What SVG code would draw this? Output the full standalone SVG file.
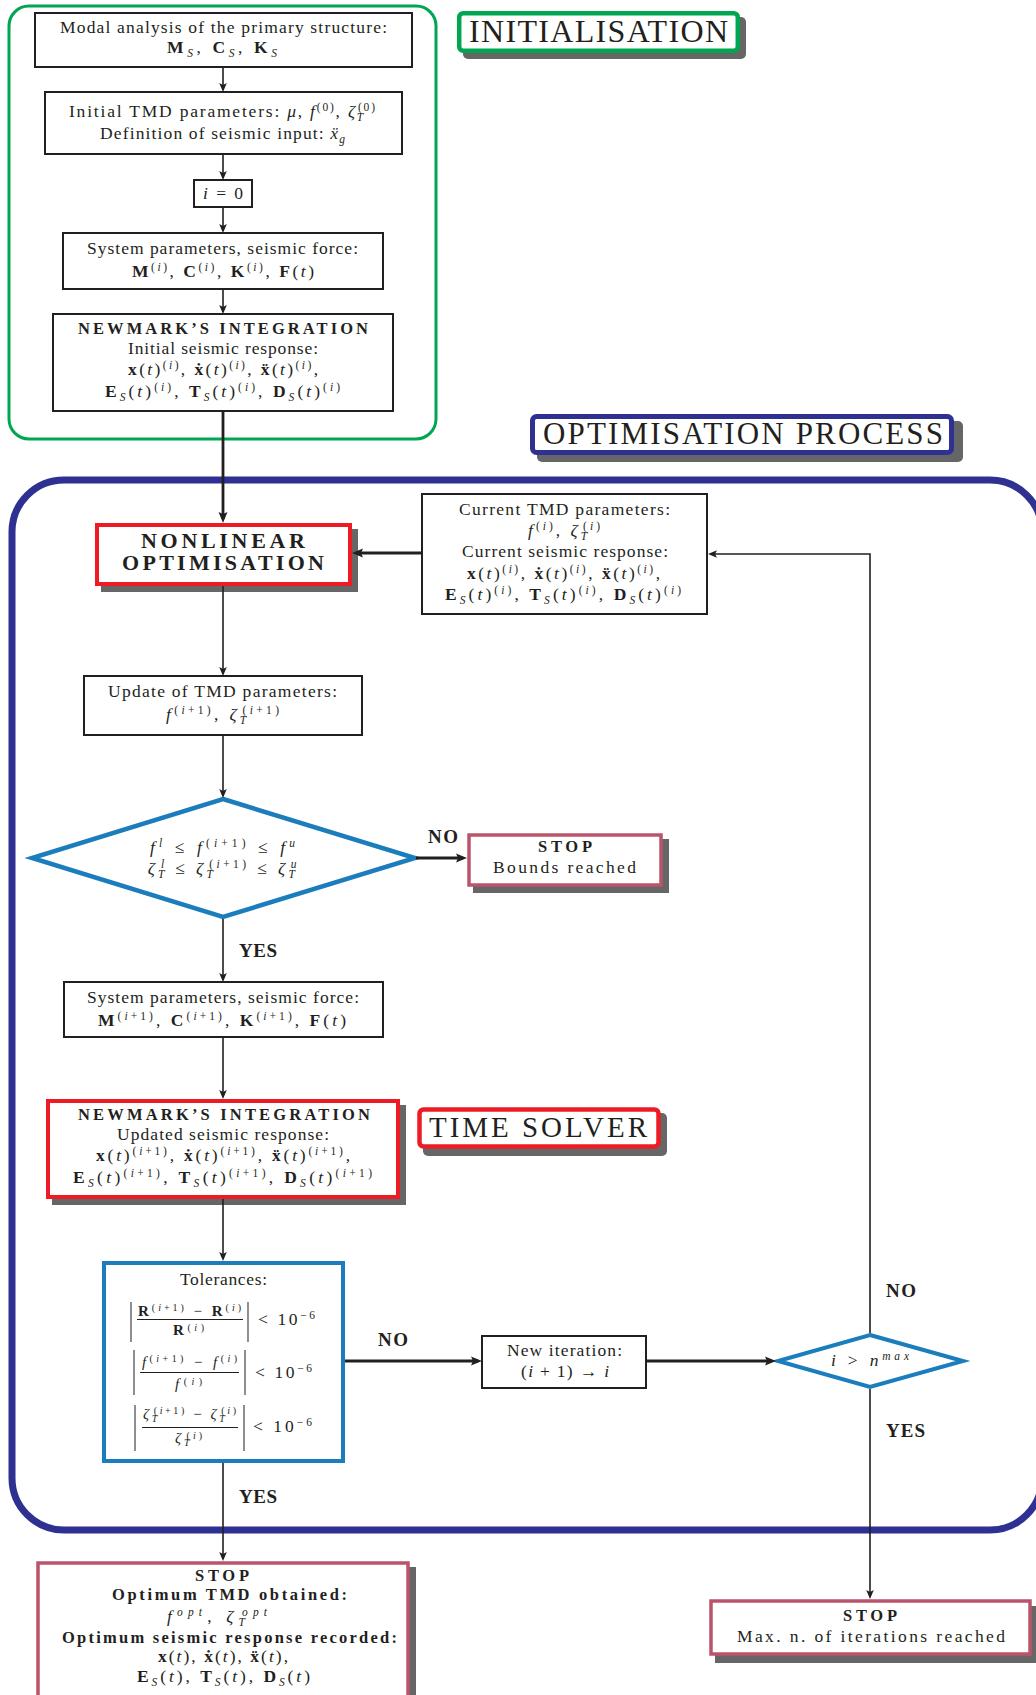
<svg xmlns="http://www.w3.org/2000/svg" width="1036" height="1695" viewBox="0 0 1036 1695">
<defs>
<style>
.t{font-family:"Liberation Serif","Times New Roman",serif;font-size:17.5px;fill:#231f20;text-anchor:middle}
.ts{text-anchor:start}
.b{font-weight:bold}
.i{font-style:italic}
.s{font-size:11.5px}
.s9{font-size:10px}
.f13{font-size:15px}
.hb{font-size:19px}
.nb{font-size:16.5px}
.box{fill:#fff;stroke:#231f20;stroke-width:2}
.sh{fill:#666}
.red{fill:#fff;stroke:#ed1c24;stroke-width:4}
.pink{fill:#fff;stroke:#b9546a;stroke-width:3.5}
.cyan{fill:#fff;stroke:#1b7dbc;stroke-width:4.5}
.c{fill:none;stroke:#231f20;stroke-width:1.6;marker-end:url(#ah)}
.ct{fill:none;stroke:#231f20;stroke-width:2.8;marker-end:url(#ahT)}
.abs{stroke:#444;stroke-width:1.2}
.bar{stroke:#231f20;stroke-width:1}
</style>
<marker id="ah" viewBox="-8 -5 11 10" markerWidth="11" markerHeight="10" refX="0" refY="0" orient="auto" markerUnits="userSpaceOnUse"><path d="M2,0 L-7,-3.8 L-5,0 L-7,3.8 Z" fill="#231f20"/></marker>
<marker id="ahT" viewBox="-8 -5 13 10" markerWidth="13" markerHeight="10" refX="0" refY="0" orient="auto" markerUnits="userSpaceOnUse"><path d="M4,0 L-7,-4.5 L-5,0 L-7,4.5 Z" fill="#231f20"/></marker>
</defs>
<rect width="1036" height="1695" fill="#fff"/>

<!-- containers -->
<g id="init-container"><rect x="9" y="6" width="427" height="433" rx="20" fill="none" stroke="#00a651" stroke-width="3"/></g>
<g id="opt-container"><rect x="12" y="480" width="1030" height="1050" rx="52" fill="none" stroke="#2e3192" stroke-width="7"/></g>

<g id="label-init">
<rect class="sh" x="463" y="17" width="283" height="42" rx="5"/>
<rect x="459.2" y="13.2" width="278.6" height="37.6" rx="4" fill="#fff" stroke="#00a651" stroke-width="4.5"/>
<text class="t" x="598.5" y="42" style="font-size:32px" textLength="259">INITIALISATION</text>
</g>
<g id="label-opt">
<rect class="sh" x="537" y="421" width="426" height="41" rx="5"/>
<rect x="532.5" y="416.5" width="419" height="36" rx="4" fill="#fff" stroke="#2e3192" stroke-width="5"/>
<text class="t" x="743" y="444" style="font-size:31px" textLength="400">OPTIMISATION PROCESS</text>
</g>

<!-- initialisation nodes -->
<g id="modal">
<rect class="box" x="35" y="13" width="377" height="54"/>
<text class="t" x="223.5" y="33" textLength="327">Modal analysis of the primary structure:</text>
<text class="t" x="222" y="53" textLength="110"><tspan class="b">M</tspan><tspan class="s i" baseline-shift="-4">S</tspan>, <tspan class="b">C</tspan><tspan class="s i" baseline-shift="-4">S</tspan>, <tspan class="b">K</tspan><tspan class="s i" baseline-shift="-4">S</tspan></text>
</g>
<g id="initial-tmd">
<rect class="box" x="45" y="92" width="357" height="62"/>
<text class="t" x="222" y="117" textLength="306">Initial TMD parameters: <tspan class="i">μ</tspan>, <tspan class="i">f</tspan><tspan class="s" baseline-shift="6.5">(0)</tspan>, <tspan class="i">ζ</tspan><tspan class="s i" baseline-shift="-4">T</tspan><tspan class="s" dx="-7" baseline-shift="6.5">(0)</tspan></text>
<text class="t" x="222.5" y="139" textLength="245">Definition of seismic input: <tspan class="i">ẍ</tspan><tspan class="s i" baseline-shift="-4">g</tspan></text>
</g>
<g id="i-zero">
<rect class="box" x="194" y="180" width="58" height="27"/>
<text class="t" x="223" y="199" textLength="40"><tspan class="i">i</tspan> = 0</text>
</g>
<g id="system-params">
<rect class="box" x="63" y="233" width="320" height="56"/>
<text class="t" x="222.5" y="254" textLength="271">System parameters, seismic force:</text>
<text class="t" x="223" y="277" textLength="182"><tspan class="b">M</tspan><tspan class="s" baseline-shift="6.5">(<tspan class="i">i</tspan>)</tspan>, <tspan class="b">C</tspan><tspan class="s" baseline-shift="6.5">(<tspan class="i">i</tspan>)</tspan>, <tspan class="b">K</tspan><tspan class="s" baseline-shift="6.5">(<tspan class="i">i</tspan>)</tspan>, <tspan class="b">F</tspan>(<tspan class="i">t</tspan>)</text>
</g>
<g id="newmark-initial">
<rect class="box" x="53" y="314" width="340" height="97"/>
<text class="t b nb" x="223" y="334" textLength="290">NEWMARK’S INTEGRATION</text>
<text class="t" x="223" y="354" textLength="190">Initial seismic response:</text>
<text class="t" x="223" y="375" textLength="190"><tspan class="b">x</tspan>(<tspan class="i">t</tspan>)<tspan class="s" baseline-shift="6.5">(<tspan class="i">i</tspan>)</tspan>, <tspan class="b">ẋ</tspan>(<tspan class="i">t</tspan>)<tspan class="s" baseline-shift="6.5">(<tspan class="i">i</tspan>)</tspan>, <tspan class="b">ẍ</tspan>(<tspan class="i">t</tspan>)<tspan class="s" baseline-shift="6.5">(<tspan class="i">i</tspan>)</tspan>,</text>
<text class="t" x="222.5" y="397" textLength="235"><tspan class="b">E</tspan><tspan class="s i" baseline-shift="-4">S</tspan>(<tspan class="i">t</tspan>)<tspan class="s" baseline-shift="6.5">(<tspan class="i">i</tspan>)</tspan>, <tspan class="b">T</tspan><tspan class="s i" baseline-shift="-4">S</tspan>(<tspan class="i">t</tspan>)<tspan class="s" baseline-shift="6.5">(<tspan class="i">i</tspan>)</tspan>, <tspan class="b">D</tspan><tspan class="s i" baseline-shift="-4">S</tspan>(<tspan class="i">t</tspan>)<tspan class="s" baseline-shift="6.5">(<tspan class="i">i</tspan>)</tspan></text>
</g>

<!-- optimisation nodes -->
<g id="nonlinear">
<rect class="sh" x="101" y="529" width="257" height="63"/>
<rect class="red" x="97" y="525" width="253" height="59"/>
<text class="t b" x="223" y="548" style="font-size:22px" textLength="164">NONLINEAR</text>
<text class="t b" x="223" y="570" style="font-size:22px" textLength="202">OPTIMISATION</text>
</g>
<g id="current">
<rect class="box" x="422" y="494" width="285" height="120"/>
<text class="t" x="564.5" y="515" textLength="211">Current TMD parameters:</text>
<text class="t" x="564" y="536" textLength="72"><tspan class="i">f</tspan><tspan class="s" baseline-shift="6.5">(<tspan class="i">i</tspan>)</tspan>, <tspan class="i">ζ</tspan><tspan class="s i" baseline-shift="-4">T</tspan><tspan class="s" dx="-7" baseline-shift="6.5">(<tspan class="i">i</tspan>)</tspan></text>
<text class="t" x="565" y="557" textLength="206">Current seismic response:</text>
<text class="t" x="563.5" y="579" textLength="193"><tspan class="b">x</tspan>(<tspan class="i">t</tspan>)<tspan class="s" baseline-shift="6.5">(<tspan class="i">i</tspan>)</tspan>, <tspan class="b">ẋ</tspan>(<tspan class="i">t</tspan>)<tspan class="s" baseline-shift="6.5">(<tspan class="i">i</tspan>)</tspan>, <tspan class="b">ẍ</tspan>(<tspan class="i">t</tspan>)<tspan class="s" baseline-shift="6.5">(<tspan class="i">i</tspan>)</tspan>,</text>
<text class="t" x="563" y="600" textLength="236"><tspan class="b">E</tspan><tspan class="s i" baseline-shift="-4">S</tspan>(<tspan class="i">t</tspan>)<tspan class="s" baseline-shift="6.5">(<tspan class="i">i</tspan>)</tspan>, <tspan class="b">T</tspan><tspan class="s i" baseline-shift="-4">S</tspan>(<tspan class="i">t</tspan>)<tspan class="s" baseline-shift="6.5">(<tspan class="i">i</tspan>)</tspan>, <tspan class="b">D</tspan><tspan class="s i" baseline-shift="-4">S</tspan>(<tspan class="i">t</tspan>)<tspan class="s" baseline-shift="6.5">(<tspan class="i">i</tspan>)</tspan></text>
</g>
<g id="update">
<rect class="box" x="84" y="676" width="278" height="59"/>
<text class="t" x="222.5" y="697" textLength="229">Update of TMD parameters:</text>
<text class="t" x="222.5" y="720" textLength="113"><tspan class="i">f</tspan><tspan class="s" baseline-shift="6.5">(<tspan class="i">i</tspan>+1)</tspan>, <tspan class="i">ζ</tspan><tspan class="s i" baseline-shift="-4">T</tspan><tspan class="s" dx="-7" baseline-shift="6.5">(<tspan class="i">i</tspan>+1)</tspan></text>
</g>
<g id="bounds-check">
<polygon class="cyan" points="223,799 415,858 223,917 32,858"/>
<text class="t" x="222.5" y="853" textLength="145"><tspan class="i">f</tspan><tspan class="s i" baseline-shift="6.5">l</tspan> ≤ <tspan class="i">f</tspan><tspan class="s" baseline-shift="6.5">(<tspan class="i">i</tspan>+1)</tspan> ≤ <tspan class="i">f</tspan><tspan class="s i" baseline-shift="6.5">u</tspan></text>
<text class="t" x="222" y="874" textLength="150"><tspan class="i">ζ</tspan><tspan class="s i" baseline-shift="-4">T</tspan><tspan class="s i" dx="-7" baseline-shift="6.5">l</tspan> ≤ <tspan class="i">ζ</tspan><tspan class="s i" baseline-shift="-4">T</tspan><tspan class="s" dx="-7" baseline-shift="6.5">(<tspan class="i">i</tspan>+1)</tspan> ≤ <tspan class="i">ζ</tspan><tspan class="s i" baseline-shift="-4">T</tspan><tspan class="s i" dx="-7" baseline-shift="6.5">u</tspan></text>
</g>
<g id="stop-bounds">
<rect class="sh" x="473" y="839" width="196" height="54"/>
<rect class="pink" x="469" y="835" width="192" height="50"/>
<text class="t b nb" x="565" y="852" textLength="54">STOP</text>
<text class="t" x="564.5" y="873" textLength="143">Bounds reached</text>
</g>
<g id="system-params-2">
<rect class="box" x="64" y="982" width="319" height="55"/>
<text class="t" x="223" y="1003" textLength="272">System parameters, seismic force:</text>
<text class="t" x="222" y="1026" textLength="248"><tspan class="b">M</tspan><tspan class="s" baseline-shift="6.5">(<tspan class="i">i</tspan>+1)</tspan>, <tspan class="b">C</tspan><tspan class="s" baseline-shift="6.5">(<tspan class="i">i</tspan>+1)</tspan>, <tspan class="b">K</tspan><tspan class="s" baseline-shift="6.5">(<tspan class="i">i</tspan>+1)</tspan>, <tspan class="b">F</tspan>(<tspan class="i">t</tspan>)</text>
</g>
<g id="newmark-updated">
<rect class="sh" x="52" y="1105" width="354" height="100"/>
<rect class="red" x="48" y="1101" width="350" height="96"/>
<text class="t b nb" x="224" y="1120" textLength="292">NEWMARK’S INTEGRATION</text>
<text class="t" x="223" y="1140" textLength="212">Updated seismic response:</text>
<text class="t" x="223" y="1161" textLength="254"><tspan class="b">x</tspan>(<tspan class="i">t</tspan>)<tspan class="s" baseline-shift="6.5">(<tspan class="i">i</tspan>+1)</tspan>, <tspan class="b">ẋ</tspan>(<tspan class="i">t</tspan>)<tspan class="s" baseline-shift="6.5">(<tspan class="i">i</tspan>+1)</tspan>, <tspan class="b">ẍ</tspan>(<tspan class="i">t</tspan>)<tspan class="s" baseline-shift="6.5">(<tspan class="i">i</tspan>+1)</tspan>,</text>
<text class="t" x="222.5" y="1183" textLength="299"><tspan class="b">E</tspan><tspan class="s i" baseline-shift="-4">S</tspan>(<tspan class="i">t</tspan>)<tspan class="s" baseline-shift="6.5">(<tspan class="i">i</tspan>+1)</tspan>, <tspan class="b">T</tspan><tspan class="s i" baseline-shift="-4">S</tspan>(<tspan class="i">t</tspan>)<tspan class="s" baseline-shift="6.5">(<tspan class="i">i</tspan>+1)</tspan>, <tspan class="b">D</tspan><tspan class="s i" baseline-shift="-4">S</tspan>(<tspan class="i">t</tspan>)<tspan class="s" baseline-shift="6.5">(<tspan class="i">i</tspan>+1)</tspan></text>
</g>
<g id="label-time-solver">
<rect class="sh" x="423" y="1113" width="244" height="43" rx="5"/>
<rect x="419.5" y="1109.5" width="239" height="37" rx="4" fill="#fff" stroke="#ed1c24" stroke-width="4.5"/>
<text class="t" x="538" y="1137" style="font-size:29px" textLength="218">TIME SOLVER</text>
</g>
<g id="tolerances">
<rect x="104" y="1263" width="239" height="198" fill="#fff" stroke="#1b7dbc" stroke-width="4"/>
<text class="t" x="223.5" y="1285" textLength="87">Tolerances:</text>
<line class="abs" x1="131" y1="1302" x2="131" y2="1342"/>
<line class="abs" x1="248" y1="1302" x2="248" y2="1342"/>
<text class="t f13" x="189.5" y="1316" textLength="103"><tspan class="b">R</tspan><tspan class="s9" baseline-shift="5">(<tspan class="i">i</tspan>+1)</tspan> − <tspan class="b">R</tspan><tspan class="s9" baseline-shift="5">(<tspan class="i">i</tspan>)</tspan></text>
<line class="bar" x1="137" y1="1319.5" x2="243" y2="1319.5"/>
<text class="t f13" x="188.5" y="1335" textLength="31"><tspan class="b">R</tspan><tspan class="s9" baseline-shift="4">(<tspan class="i">i</tspan>)</tspan></text>
<text class="t ts" x="258" y="1325" textLength="57">&lt; 10<tspan class="s" baseline-shift="6.5">−6</tspan></text>
<line class="abs" x1="134" y1="1350" x2="134" y2="1395"/>
<line class="abs" x1="245" y1="1350" x2="245" y2="1395"/>
<text class="t f13" x="189.5" y="1367" textLength="95"><tspan class="i">f</tspan><tspan class="s9" baseline-shift="5">(<tspan class="i">i</tspan>+1)</tspan> − <tspan class="i">f</tspan><tspan class="s9" baseline-shift="5">(<tspan class="i">i</tspan>)</tspan></text>
<line class="bar" x1="140" y1="1372.5" x2="239" y2="1372.5"/>
<text class="t f13" x="188.5" y="1389" textLength="27"><tspan class="i">f</tspan><tspan class="s9" baseline-shift="4">(<tspan class="i">i</tspan>)</tspan></text>
<text class="t ts" x="255" y="1378" textLength="57">&lt; 10<tspan class="s" baseline-shift="6.5">−6</tspan></text>
<line class="abs" x1="135" y1="1405" x2="135" y2="1451"/>
<line class="abs" x1="244" y1="1405" x2="244" y2="1451"/>
<text class="t f13" x="189.5" y="1419" textLength="93"><tspan class="i">ζ</tspan><tspan class="s9 i" baseline-shift="-3">T</tspan><tspan class="s9" dx="-6" baseline-shift="5">(<tspan class="i">i</tspan>+1)</tspan> − <tspan class="i">ζ</tspan><tspan class="s9 i" baseline-shift="-3">T</tspan><tspan class="s9" dx="-6" baseline-shift="5">(<tspan class="i">i</tspan>)</tspan></text>
<line class="bar" x1="142" y1="1427.5" x2="238" y2="1427.5"/>
<text class="t f13" x="188.5" y="1443" textLength="27"><tspan class="i">ζ</tspan><tspan class="s9 i" baseline-shift="-3">T</tspan><tspan class="s9" dx="-6" baseline-shift="4">(<tspan class="i">i</tspan>)</tspan></text>
<text class="t ts" x="253" y="1432" textLength="59">&lt; 10<tspan class="s" baseline-shift="6.5">−6</tspan></text>
</g>
<g id="new-iteration">
<rect class="box" x="482" y="1336" width="164" height="52"/>
<text class="t" x="564.5" y="1356" textLength="115">New iteration:</text>
<text class="t" x="565" y="1377" textLength="88">(<tspan class="i">i</tspan> + 1) → <tspan class="i">i</tspan></text>
</g>
<g id="max-iter-check">
<polygon class="cyan" style="stroke-width:4" points="870,1335 963,1361 870,1387 778,1361"/>
<text class="t" x="870" y="1366" textLength="78"><tspan class="i">i</tspan> &gt; <tspan class="i">n</tspan><tspan class="s i" baseline-shift="6.5">max</tspan></text>
</g>
<g id="stop-optimum">
<rect class="sh" x="42" y="1567" width="374" height="140"/>
<rect class="pink" x="38" y="1563" width="370" height="140"/>
<text class="t b nb" x="222" y="1581" textLength="54">STOP</text>
<text class="t b nb" x="229.5" y="1600" textLength="235">Optimum TMD obtained:</text>
<text class="t" x="217" y="1622" textLength="100"><tspan class="i">f</tspan><tspan class="s i" baseline-shift="6.5">opt</tspan>, <tspan class="i">ζ</tspan><tspan class="s i" baseline-shift="-4">T</tspan><tspan class="s i" dx="-7" baseline-shift="6.5">opt</tspan></text>
<text class="t b nb" x="229.5" y="1643" textLength="335">Optimum seismic response recorded:</text>
<text class="t" x="223" y="1662" textLength="130"><tspan class="b">x</tspan>(<tspan class="i">t</tspan>), <tspan class="b">ẋ</tspan>(<tspan class="i">t</tspan>), <tspan class="b">ẍ</tspan>(<tspan class="i">t</tspan>),</text>
<text class="t" x="223.5" y="1682" textLength="173"><tspan class="b">E</tspan><tspan class="s i" baseline-shift="-4">S</tspan>(<tspan class="i">t</tspan>), <tspan class="b">T</tspan><tspan class="s i" baseline-shift="-4">S</tspan>(<tspan class="i">t</tspan>), <tspan class="b">D</tspan><tspan class="s i" baseline-shift="-4">S</tspan>(<tspan class="i">t</tspan>)</text>
</g>
<g id="stop-max">
<rect class="sh" x="715" y="1606" width="325" height="57"/>
<rect class="pink" x="711" y="1601" width="319" height="53"/>
<text class="t b nb" x="870" y="1621" textLength="54">STOP</text>
<text class="t" x="871" y="1642" textLength="268">Max. n. of iterations reached</text>
</g>

<!-- connectors -->
<g id="connectors">
<path class="c" d="M223,67 V90"/>
<path class="c" d="M223,154 V178"/>
<path class="c" d="M223,207 V231"/>
<path class="c" d="M223,289 V312"/>
<path class="ct" d="M223,411 V519"/>
<path class="ct" d="M422,553 H356"/>
<path class="c" d="M223,586 V674"/>
<path class="c" d="M223,735 V796"/>
<path class="ct" d="M416,858 H463"/>
<path class="c" d="M223,919 V980"/>
<path class="c" d="M223,1037 V1097"/>
<path class="c" d="M223,1199 V1259"/>
<path class="ct" d="M345,1361 H478"/>
<path class="ct" d="M646,1361 H772"/>
<path class="c" d="M870,1333 V554 H710"/>
<path class="c" d="M870,1389 V1597"/>
<path class="c" d="M223,1463 V1559"/>
</g>
<g id="edge-labels">
<text class="t b ts hb" x="428" y="843" textLength="30">NO</text>
<text class="t b ts hb" x="239" y="957" textLength="38">YES</text>
<text class="t b ts hb" x="378" y="1346" textLength="30">NO</text>
<text class="t b ts hb" x="886" y="1297" textLength="30">NO</text>
<text class="t b ts hb" x="886" y="1437" textLength="39">YES</text>
<text class="t b ts hb" x="239" y="1503" textLength="38">YES</text>
</g>
</svg>
